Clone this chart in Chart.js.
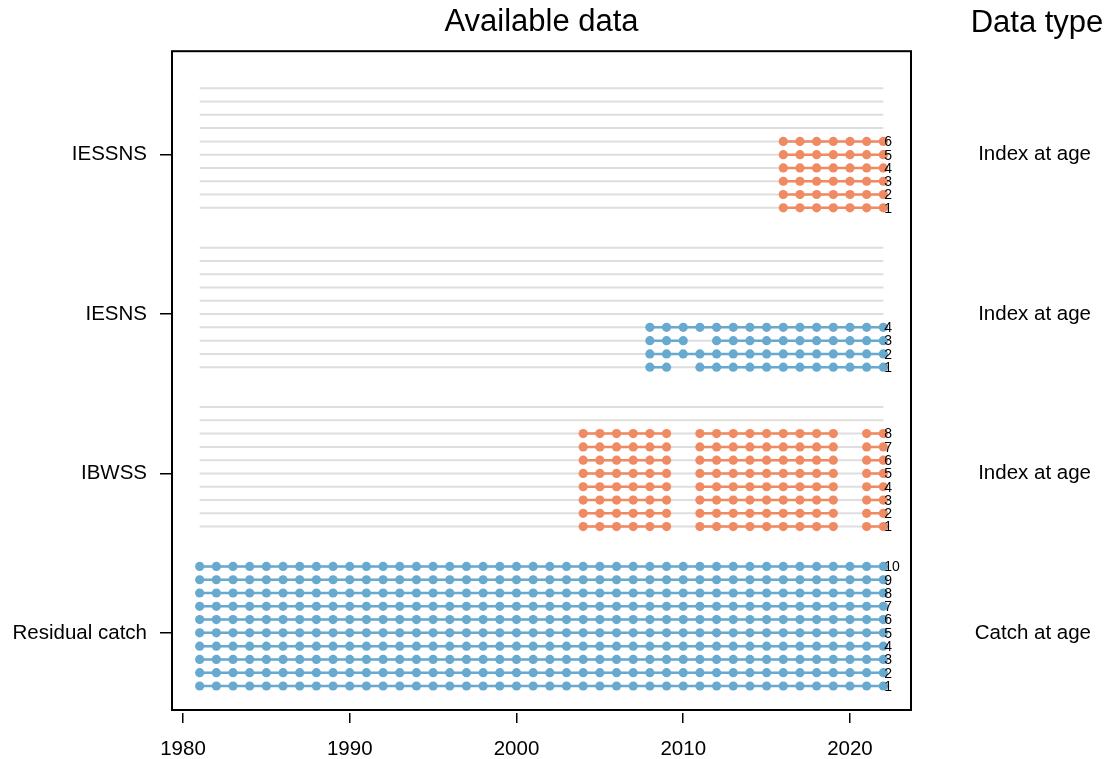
<!DOCTYPE html>
<html>
<head>
<meta charset="utf-8">
<script src="https://cdn.jsdelivr.net/npm/chart.js@4"></script>
<style>
    body { margin: 0; background: #fff; }
    #wrap { width: 1106px; height: 759px; }
</style>
</head>
<body>
<div id="wrap"><canvas id="myChart"></canvas></div>
<script>
// groups, bottom to top
var surveys = ['Residual catch', 'IBWSS', 'IESNS', 'IESSNS'];
var dataTypes = ['Catch at age', 'Index at age', 'Index at age', 'Index at age'];
var surveyColours = ['#67a9cf', '#ef8a62', '#67a9cf', '#ef8a62'];
var rowOffset = [0, 12, 24, 36];
var ages = [1, 2, 3, 4, 5, 6, 7, 8, 9, 10];
var labelAge = 5;
var firstYear = 1981, lastYear = 2022;
var xTicks = [1980, 1990, 2000, 2010, 2020];

// years with data
var residualYears = [1981, 1982, 1983, 1984, 1985, 1986, 1987, 1988, 1989, 1990,
    1991, 1992, 1993, 1994, 1995, 1996, 1997, 1998, 1999, 2000,
    2001, 2002, 2003, 2004, 2005, 2006, 2007, 2008, 2009, 2010,
    2011, 2012, 2013, 2014, 2015, 2016, 2017, 2018, 2019, 2020,
    2021, 2022];
var ibwssYears = [2004, 2005, 2006, 2007, 2008, 2009,
    2011, 2012, 2013, 2014, 2015, 2016, 2017, 2018, 2019,
    2021, 2022];
var iesnsAge1 = [2008, 2009, 2011, 2012, 2013, 2014, 2015, 2016, 2017, 2018, 2019, 2020, 2021, 2022];
var iesnsAge2 = [2008, 2009, 2010, 2011, 2012, 2013, 2014, 2015, 2016, 2017, 2018, 2019, 2020, 2021, 2022];
var iesnsAge3 = [2008, 2009, 2010, 2012, 2013, 2014, 2015, 2016, 2017, 2018, 2019, 2020, 2021, 2022];
var iesnsAge4 = [2008, 2009, 2010, 2011, 2012, 2013, 2014, 2015, 2016, 2017, 2018, 2019, 2020, 2021, 2022];
var iessnsYears = [2016, 2017, 2018, 2019, 2020, 2021, 2022];

// per group: one list of years for each age that has data
var coverage = [
    ages.map(function () { return residualYears; }),
    ages.slice(0, 8).map(function () { return ibwssYears; }),
    [iesnsAge1, iesnsAge2, iesnsAge3, iesnsAge4],
    ages.slice(0, 6).map(function () { return iessnsYears; })
];

var font = "'Liberation Sans', Arial, sans-serif";
var datasets = [];

coverage.forEach(function (rows, g) {
    rows.forEach(function (years, k) {
        var row = rowOffset[g] + k + 1;
        var pts = [];
        years.forEach(function (yr, j) {
            // a gap in the years breaks the line
            if (j > 0 && yr - years[j - 1] > 1) pts.push({ x: yr - 0.5, y: null });
            pts.push({ x: yr, y: row });
        });
        datasets.push({
            data: pts,
            showLine: true,
            spanGaps: false,
            borderColor: surveyColours[g],
            borderWidth: 2.5,
            backgroundColor: surveyColours[g],
            pointBackgroundColor: surveyColours[g],
            pointBorderWidth: 0,
            pointRadius: 4.6,
            order: 1
        });
    });
});

// grey guide line for every age row
surveys.forEach(function (s, g) {
    ages.forEach(function (a) {
        datasets.push({
            data: [{ x: firstYear, y: rowOffset[g] + a }, { x: lastYear, y: rowOffset[g] + a }],
            showLine: true,
            borderColor: '#dedede',
            borderWidth: 2,
            pointRadius: 0,
            order: 2
        });
    });
});

function groupTicks(scale) {
    scale.ticks = rowOffset.map(function (o) { return { value: o + labelAge }; });
}

var extras = {
    id: 'extras',
    afterDraw: function (chart) {
        var ctx = chart.ctx, xs = chart.scales.x, ys = chart.scales.y, a = chart.chartArea;
        ctx.save();
        ctx.fillStyle = '#000';
        ctx.font = '14px ' + font;
        ctx.textBaseline = 'middle';
        ctx.textAlign = 'left';
        coverage.forEach(function (rows, g) {
            rows.forEach(function (years, k) {
                ctx.fillText(String(k + 1), xs.getPixelForValue(lastYear) + 1,
                    ys.getPixelForValue(rowOffset[g] + k + 1) + 1);
            });
        });
        ctx.strokeStyle = '#000';
        ctx.lineWidth = 2;
        ctx.strokeRect(a.left, a.top, a.right - a.left, a.bottom - 3 - a.top);
        ctx.font = '31px ' + font;
        ctx.textAlign = 'center';
        ctx.fillText('Data type', 1037, 23);
        ctx.restore();
    }
};

new Chart(document.getElementById('myChart'), {
    type: 'scatter',
    data: { datasets: datasets },
    plugins: [extras],
    options: {
        responsive: true,
        maintainAspectRatio: false,
        animation: false,
        events: [],
        layout: { padding: { left: 0, top: 0, bottom: 0, right: 15 } },
        plugins: {
            legend: { display: false },
            tooltip: { enabled: false },
            title: {
                display: true,
                text: 'Available data',
                fullSize: false,
                color: '#000',
                font: { family: font, size: 31, weight: 'normal' },
                padding: { top: 4, bottom: 10 }
            }
        },
        scales: {
            x: {
                type: 'linear',
                min: 1979.34,
                max: 2023.66,
                afterBuildTicks: function (s) { s.ticks = xTicks.map(function (v) { return { value: v }; }); },
                afterFit: function (s) { s.height = 46; },
                border: { display: false },
                grid: { drawOnChartArea: false, drawTicks: true, tickLength: 10, color: '#000', lineWidth: 1.5 },
                ticks: { color: '#000', font: { family: font, size: 20.5 }, padding: 14, maxRotation: 0, autoSkip: false,
                    callback: function (v) { return String(v); } }
            },
            y: {
                type: 'linear',
                position: 'left',
                min: -1.033,
                max: 48.79,
                afterBuildTicks: groupTicks,
                afterFit: function (s) { s.width = 172; },
                border: { display: false },
                grid: { drawOnChartArea: false, drawTicks: true, tickLength: 12, color: '#000', lineWidth: 1.5 },
                ticks: { color: '#000', font: { family: font, size: 20.5 }, padding: 13, autoSkip: false,
                    callback: function (v, i) { return surveys[i]; } }
            },
            yR: {
                type: 'linear',
                position: 'right',
                min: -1.033,
                max: 48.79,
                afterBuildTicks: groupTicks,
                afterFit: function (s) { s.width = 180; },
                border: { display: false },
                grid: { display: false },
                ticks: { color: '#000', font: { family: font, size: 20.5 }, padding: 0, crossAlign: 'far', autoSkip: false,
                    callback: function (v, i) { return dataTypes[i]; } }
            }
        }
    }
});
</script>
</body>
</html>
